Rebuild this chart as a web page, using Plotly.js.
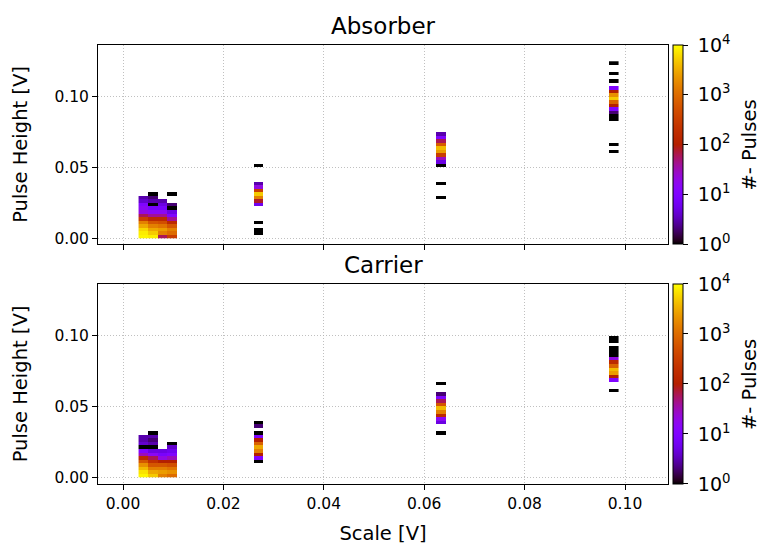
<!DOCTYPE html>
<html>
<head>
<meta charset="utf-8">
<script src="https://cdn.plot.ly/plotly-3.0.1.min.js"></script>
<style>
  html, body { margin: 0; padding: 0; background: #fff; }
  #chart { width: 762px; height: 545px; }
</style>
</head>
<body>
<div id="chart"></div>
<script>
// 2D histogram binning (scale on x, pulse height on y)
const xBinStart = 0.0031;
const xBinWidth = 0.001912;
const yBinWidth = 0.0025;
const nBins = 50;

// Absorber: populated x-bin columns, first y-bin of each column, counts going up
const absorberXBins = [0, 1, 2, 3, 12, 31, 49];
const absorberYStart = [0, 0, 0, 0, 1, 11, 24];
const absorberCounts = [
  [9000, 8000, 6000, 3000, 1500, 300, 60, 20, 15, 10, 4, 3],
  [8000, 5000, 3000, 1500, 600, 150, 40, 15, 8, 1, 3, 2, 1],
  [60, 1500, 2500, 1200, 500, 150, 40, 15, 8, 5, 3],
  [300, 1000, 1500, 600, 150, 40, 10, 5, 1, 2, 0, 0, 1],
  [1, 1, 0, 1, 0, 0, 0, 0, 6, 80, 1500, 5000, 300, 20, 3, 0, 0, 0, 0, 1],
  [1, 0, 0, 0, 1, 0, 0, 0, 0, 1, 5, 30, 300, 2500, 4000, 700, 60, 10, 3],
  [1, 0, 1, 0, 0, 0, 0, 0, 0, 1, 1, 2, 10, 100, 800, 5000, 2000, 100, 10, 0, 1, 0, 1, 0, 0, 1]
];

// Carrier
const carrierXBins = [0, 1, 2, 3, 12, 31, 49];
const carrierYStart = [0, 0, 0, 0, 4, 12, 24];
const carrierCounts = [
  [9000, 7000, 4000, 2000, 600, 150, 30, 10, 1, 4, 3, 3],
  [5000, 3000, 1500, 600, 200, 60, 15, 5, 1, 3, 2, 3, 1],
  [1500, 2500, 1500, 600, 100, 20, 8, 5],
  [1000, 2000, 1200, 500, 100, 30, 10, 6, 4, 1],
  [1, 10, 100, 1500, 3000, 800, 100, 10, 1, 0, 2, 1],
  [1, 0, 0, 5, 15, 150, 1500, 4000, 600, 60, 10, 2, 0, 0, 1],
  [1, 0, 0, 10, 100, 2500, 4000, 800, 150, 20, 1, 1, 1, 0, 1, 1]
];

const colorbarTicks = [0, 1, 2, 3, 4];

// log10(count) grid; empty bins stay blank
function buildGrid(xBins, yStart, counts) {
  const z = [];
  for (let r = 0; r < nBins; r++) z.push(new Array(nBins).fill(null));
  xBins.forEach((col, i) => {
    counts[i].forEach((c, j) => {
      if (c > 0) z[yStart[i] + j][col] = Math.log10(c);
    });
  });
  return z;
}

// matplotlib "gnuplot" colormap: r = sqrt(t), g = t^3, b = sin(2*pi*t)
function gnuplotScale(n) {
  const s = [];
  for (let i = 0; i <= n; i++) {
    const t = i / n;
    const r = Math.round(255 * Math.sqrt(t));
    const g = Math.round(255 * Math.pow(t, 3));
    const b = Math.round(255 * Math.max(0, Math.min(1, Math.sin(2 * Math.PI * t))));
    s.push([t, `rgb(${r},${g},${b})`]);
  }
  return s;
}

const font = 'DejaVu Sans, sans-serif';
const cscale = gnuplotScale(64);

function heat(z, xa, ya, ca) {
  return {
    type: 'heatmap',
    z: z,
    x0: xBinStart + xBinWidth / 2, dx: xBinWidth,
    y0: yBinWidth / 2, dy: yBinWidth,
    xaxis: xa, yaxis: ya, coloraxis: ca,
    hoverinfo: 'skip', zsmooth: false
  };
}

const traces = [
  heat(buildGrid(absorberXBins, absorberYStart, absorberCounts), 'x', 'y', 'coloraxis'),
  heat(buildGrid(carrierXBins, carrierYStart, carrierCounts), 'x2', 'y2', 'coloraxis2')
];

const xRange = [-0.00498, 0.10857];
const tickFont = { family: font, size: 15.5, color: '#000' };
const labelFont = { family: font, size: 19.5, color: '#000' };

function xAxis(domainAnchor, showLabels) {
  return {
    domain: [0, 0.9744], anchor: domainAnchor, range: xRange,
    tickvals: [0, 0.02, 0.04, 0.06, 0.08, 0.1],
    ticktext: ['0.00', '0.02', '0.04', '0.06', '0.08', '0.10'],
    showticklabels: showLabels, ticks: 'outside', ticklen: 5, tickwidth: 1, tickcolor: '#000',
    showline: true, mirror: true, linecolor: '#000', linewidth: 1,
    showgrid: true, gridcolor: '#b0b0b0', griddash: '1px,2px', gridwidth: 0.8,
    zeroline: false, tickfont: tickFont
  };
}
function yAxis(domain, anchor, range) {
  return {
    domain: domain, anchor: anchor, range: range,
    tickvals: [0, 0.05, 0.1], ticktext: ['0.00', '0.05', '0.10'],
    ticks: 'outside', ticklen: 5, tickwidth: 1, tickcolor: '#000',
    showline: true, mirror: true, linecolor: '#000', linewidth: 1,
    showgrid: true, gridcolor: '#b0b0b0', griddash: '1px,2px', gridwidth: 0.8,
    zeroline: false, tickfont: tickFont,
    title: { text: 'Pulse Height [V]', font: labelFont, standoff: 21 }
  };
}
function colorAxis(yTop, len) {
  return {
    cmin: 0, cmax: 4, colorscale: cscale,
    colorbar: {
      x: 0.9829, xanchor: 'left', xpad: 0, y: yTop, yanchor: 'top', ypad: 0,
      len: len, lenmode: 'fraction', thickness: 10,
      outlinewidth: 1, outlinecolor: '#000',
      tickmode: 'array', tickvals: colorbarTicks,
      ticktext: colorbarTicks.map(p => `\u00a010<sup>${p}</sup>`),
      ticks: 'outside', ticklen: 5, tickcolor: '#000',
      tickfont: { family: font, size: 19, color: '#000' }
    }
  };
}

// colour-bar captions, one beside each bar
function barCaption(yCenter) {
  return {
    text: '#- Pulses', xref: 'paper', yref: 'paper', x: 1.1145, y: yCenter,
    xanchor: 'center', yanchor: 'middle', textangle: -90, showarrow: false, font: labelFont
  };
}

const layout = {
  width: 762, height: 545,
  margin: { l: 98, r: 79, t: 45, b: 61 },
  paper_bgcolor: '#fff', plot_bgcolor: '#fff',
  showlegend: false,
  xaxis: xAxis('y', false),
  yaxis: yAxis([0.5467, 1], 'x', [-0.0040, 0.1365]),
  xaxis2: Object.assign(xAxis('y2', true), {
    title: { text: 'Scale [V]', font: labelFont, standoff: 17 }
  }),
  yaxis2: yAxis([0, 0.4556], 'x2', [-0.0047, 0.1365]),
  coloraxis: colorAxis(1, 0.4533),
  coloraxis2: colorAxis(0.4556, 0.4556),
  annotations: [
    { text: 'Absorber', xref: 'paper', yref: 'paper', x: 0.4872, y: 1, xanchor: 'center', yanchor: 'bottom',
      yshift: 4, showarrow: false, font: { family: font, size: 23, color: '#000' } },
    { text: 'Carrier', xref: 'paper', yref: 'paper', x: 0.4872, y: 0.4556, xanchor: 'center', yanchor: 'bottom',
      yshift: 4, showarrow: false, font: { family: font, size: 23, color: '#000' } },
    barCaption(0.7733),
    barCaption(0.2278)
  ]
};

Plotly.newPlot('chart', traces, layout, { staticPlot: true, displayModeBar: false });
</script>
</body>
</html>
